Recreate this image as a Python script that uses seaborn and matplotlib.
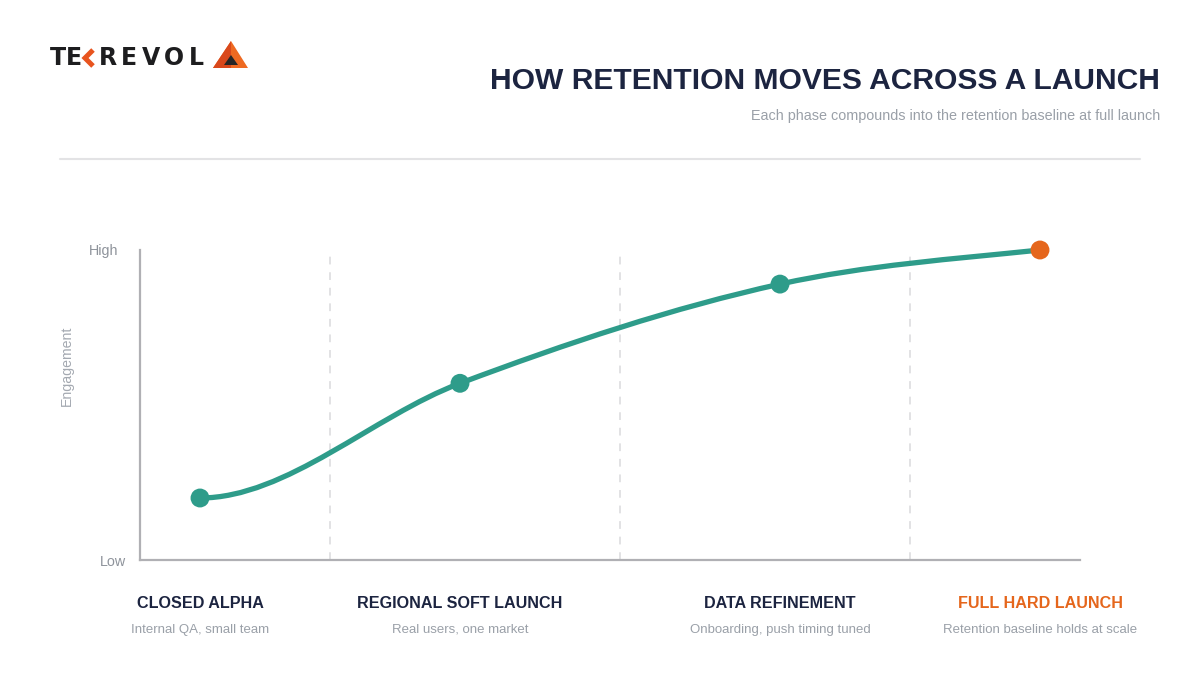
import numpy as np
import pandas as pd
import matplotlib
matplotlib.use("Agg")
import matplotlib.pyplot as plt
import matplotlib.transforms as mtransforms
from matplotlib.path import Path
from matplotlib.patches import PathPatch, Polygon
from matplotlib.lines import Line2D
import seaborn as sns

# ---------------- data ----------------
phases = ["CLOSED ALPHA", "REGIONAL SOFT LAUNCH", "DATA REFINEMENT", "FULL HARD LAUNCH"]
phase_notes = ["Internal QA, small team", "Real users, one market",
               "Onboarding, push timing tuned", "Retention baseline holds at scale"]
timeline = [0.6, 3.2, 6.4, 9.0]          # position along the launch timeline
engagement = [0.20, 0.57, 0.89, 1.00]    # relative engagement (Low=0, High=1)
boundaries = [1.9, 4.8, 7.7]             # phase boundaries (dashed guides)
y_ticks = [0, 1]
y_tick_labels = ["Low", "High"]

title = "HOW RETENTION MOVES ACROSS A LAUNCH"
subtitle = "Each phase compounds into the retention baseline at full launch"

# ---------------- style ----------------
TEAL = "#2e9c8a"
ORANGE = "#e5661c"
NAVY = "#1c2440"
GRAY = "#9aa0a8"
TICK = "#8e939b"
SPINE = "#b0b0b4"

sns.set_theme(style="white")
plt.rcParams["font.family"] = ["Liberation Sans", "DejaVu Sans"]

W, H = 1200, 695
fig = plt.figure(figsize=(W / 100, H / 100), dpi=100)
fig.patch.set_facecolor("white")

def fx(px):
    return px / W

def fy(py):
    return (H - py) / H

ax = fig.add_axes([fx(140), fy(560), fx(1080) - fx(140), (560 - 250) / H])
ax.set_xlim(0, 9.4)
ax.set_ylim(0, 1)

df = pd.DataFrame({"phase": phases, "x": timeline, "y": engagement,
                   "stage": ["build", "build", "build", "launch"]})

# dashed phase guides
for b in boundaries:
    ax.axvline(b, color="#e2e2e4", lw=1.4, ls=(0, (4, 4)), zorder=0)

# smooth ease-in curve through the phase points (cubic Hermite -> Bezier)
xs = np.array(timeline, dtype=float)
ys = np.array(engagement, dtype=float)
seg = np.diff(ys) / np.diff(xs)
tang = np.empty_like(xs)
tang[0] = 0.0
tang[1:-1] = (seg[:-1] + seg[1:]) / 2
tang[-1] = seg[-1] * 0.8
verts = [(xs[0], ys[0])]
codes = [Path.MOVETO]
for i in range(len(xs) - 1):
    h = xs[i + 1] - xs[i]
    verts += [(xs[i] + h / 3, ys[i] + tang[i] * h / 3),
              (xs[i + 1] - h / 3, ys[i + 1] - tang[i + 1] * h / 3),
              (xs[i + 1], ys[i + 1])]
    codes += [Path.CURVE4] * 3
ax.add_patch(PathPatch(Path(verts, codes), facecolor="none", edgecolor=TEAL,
                       lw=3.8, capstyle="round", zorder=2, clip_on=False))

sns.scatterplot(data=df, x="x", y="y", hue="stage",
                palette={"build": TEAL, "launch": ORANGE},
                s=185, linewidth=0, legend=False, zorder=3, clip_on=False, ax=ax)

# axes styling
sns.despine(ax=ax)
for side in ["left", "bottom"]:
    ax.spines[side].set_color(SPINE)
    ax.spines[side].set_linewidth(1.6)
ax.set_xticks([])
ax.set_xlabel("")
ax.set_yticks(y_ticks)
ax.set_yticklabels(y_tick_labels)
ax.tick_params(axis="y", length=0, pad=10, labelsize=10.3, labelcolor=TICK)
for lab in ax.get_yticklabels():
    if lab.get_text() == "High":
        lab.set_transform(lab.get_transform() +
                          mtransforms.ScaledTranslation(-8 / 100, 0, fig.dpi_scale_trans))
ax.set_ylabel("Engagement", fontsize=10.2, color="#a4a9b1")
ax.yaxis.label.set_va("center")
ax.yaxis.set_label_coords((67 - 140) / 940, (560 - 366) / 310)

# phase labels beneath the axis
blend = mtransforms.blended_transform_factory(ax.transData, fig.transFigure)
for i, (name, note, x) in enumerate(zip(phases, phase_notes, timeline)):
    col = ORANGE if i == len(phases) - 1 else NAVY
    ax.text(x, fy(603), name, transform=blend, ha="center", va="center",
            fontsize=11.6, fontweight="bold", color=col)
    ax.text(x, fy(630), note, transform=blend, ha="center", va="center",
            fontsize=9.5, color=GRAY)

# title block
fig.text(fx(1160), fy(81), title, ha="right", va="center",
         fontsize=21.6, fontweight="bold", color=NAVY)
fig.text(fx(1160), fy(116), subtitle, ha="right", va="center",
         fontsize=10.4, color=GRAY)
fig.add_artist(Line2D([fx(60), fx(1140)], [fy(159), fy(159)],
                      transform=fig.transFigure, color="#e3e3e5", lw=1.5))

# logo
logo_letters = [("T", 58), ("E", 74), ("R", 108), ("E", 129), ("V", 151), ("O", 174), ("L", 196)]
for ch, cx in logo_letters:
    fig.text(fx(cx), fy(58), ch, ha="center", va="center", fontsize=17,
             fontweight="bold", color="#1d1d1f", family=["DejaVu Sans"])
fig.add_artist(Line2D([fx(93), fx(85), fx(93)], [fy(50), fy(58), fy(66)],
                      transform=fig.transFigure, color="#e8541e", lw=3.6,
                      solid_joinstyle="miter", solid_capstyle="butt"))
fig.add_artist(Polygon([(fx(213), fy(68)), (fx(231), fy(41)), (fx(248), fy(68))],
                       closed=True, transform=fig.transFigure, facecolor="#ee6a22", edgecolor="none"))
fig.add_artist(Polygon([(fx(213), fy(68)), (fx(231), fy(41)), (fx(231), fy(68))],
                       closed=True, transform=fig.transFigure, facecolor="#d9481c", edgecolor="none"))
fig.add_artist(Polygon([(fx(224), fy(65)), (fx(231), fy(55)), (fx(238), fy(65))],
                       closed=True, transform=fig.transFigure, facecolor="#262626", edgecolor="none"))

fig.savefig("out.png", dpi=100, facecolor="white")
